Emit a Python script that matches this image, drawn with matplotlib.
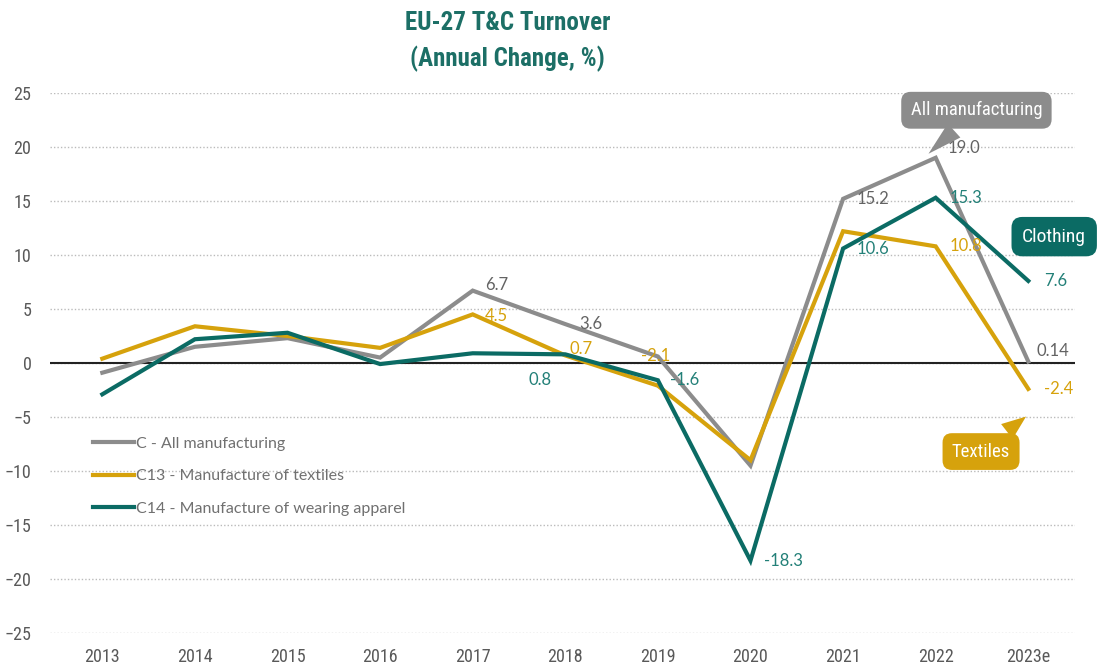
import matplotlib
matplotlib.use("Agg")
import matplotlib.pyplot as plt
from matplotlib import font_manager

# ---- data ----
years = ["2013", "2014", "2015", "2016", "2017", "2018", "2019", "2020", "2021", "2022", "2023e"]
all_manuf = [-0.9, 1.5, 2.3, 0.5, 6.7, 3.6, 0.6, -9.5, 15.2, 19.0, 0.14]
textiles = [0.4, 3.4, 2.5, 1.4, 4.5, 0.7, -2.1, -9.0, 12.2, 10.8, -2.4]
apparel = [-2.9, 2.2, 2.8, -0.1, 0.9, 0.8, -1.6, -18.3, 10.6, 15.3, 7.6]

series_names = ["C - All manufacturing",
                "C13 - Manufacture of textiles",
                "C14 - Manufacture of wearing apparel"]

GRAY = "#8c8c8c"
GOLD = "#d6a20c"
TEAL = "#0b6b64"
TITLE_C = "#1c6f66"
LBL_COLORS = ["#636363", "#d6a20c", "#238078"]

# value labels: (series index, year index, text, offset px, ha)
labels = [
    (0, 4, "6.7", (12, 6), "left"),
    (1, 4, "4.5", (12, -2), "left"),
    (0, 5, "3.6", (14, 0), "left"),
    (1, 5, "0.7", (4, 6), "left"),
    (2, 5, "0.8", (-25, -26), "center"),
    (1, 6, "-2.1", (-2, 30), "center"),
    (2, 6, "-1.6", (12, 0), "left"),
    (2, 7, "-18.3", (14, 0), "left"),
    (0, 8, "15.2", (14, 0), "left"),
    (2, 8, "10.6", (14, 0), "left"),
    (0, 9, "19.0", (12, 10), "left"),
    (2, 9, "15.3", (14, 0), "left"),
    (1, 9, "10.8", (14, 0), "left"),
    (0, 10, "0.14", (8, 10), "left"),
    (2, 10, "7.6", (16, 0), "left"),
    (1, 10, "-2.4", (16, 0), "left"),
]

plt.rcParams['font.family'] = ['Lato', 'DejaVu Sans']

# a narrow face for title, ticks and callouts, if one is installed
names = {f.name for f in font_manager.fontManager.ttflist}
narrow_name = None
for cand in ['Liberation Sans Narrow', 'Roboto Condensed', 'Open Sans Condensed',
             'DejaVu Sans Condensed']:
    if cand in names:
        narrow_name = cand
        break
if narrow_name:
    narrow = dict(family=[narrow_name, 'DejaVu Sans'])
else:
    narrow = dict(family=['DejaVu Sans'], stretch='condensed')

fig = plt.figure(figsize=(11.01, 6.68), dpi=100)
ax = fig.add_axes([0.045, 0.0524, 0.931, 0.8084])

x = list(range(len(years)))
data = [all_manuf, textiles, apparel]
colors = [GRAY, GOLD, TEAL]
for vals, c, name in zip(data, colors, series_names):
    ax.plot(x, vals, color=c, lw=3, label=name, solid_joinstyle='miter')

ax.axhline(0, color="#222222", lw=1.5, zorder=1)
ax.set_ylim(-25, 25)
ax.set_xlim(-0.57, 10.5)
ax.set_yticks(range(-25, 26, 5))
ax.set_xticks(x)
ax.set_xticklabels(years)
ax.grid(axis='y', color="#bbbbbb", ls=(0, (1, 1.5)), lw=1)
ax.set_axisbelow(True)
for s in ax.spines.values():
    s.set_visible(False)
ax.tick_params(length=0, colors="#555555")
for t in ax.get_xticklabels() + ax.get_yticklabels():
    t.set_fontproperties(font_manager.FontProperties(size=13, **narrow))
    t.set_color("#595959")
ax.tick_params(axis='x', pad=11)
ax.tick_params(axis='y', pad=13)

for si, yi, txt, off, ha in labels:
    ax.annotate(txt, (x[yi], data[si][yi]), xytext=off, textcoords='offset pixels',
                ha=ha, va='center', fontsize=12, color=LBL_COLORS[si])

leg = ax.legend(loc='upper left', bbox_to_anchor=(0.028, 0.39), frameon=False,
                handlelength=2.6, handletextpad=0.1, labelspacing=1.15, fontsize=11.5)
for t in leg.get_texts():
    t.set_color("#707070")

# callouts
box = dict(boxstyle='round,pad=0.5', ec='none')
ax.annotate("All manufacturing", xy=(8.9, 19.2), xytext=(9.44, 23.4),
            ha='center', va='center', fontsize=13.5, color='white',
            bbox=dict(box, fc=GRAY),
            arrowprops=dict(arrowstyle='wedge,tail_width=1.0', fc=GRAY, ec='none'),
            **narrow)
ax.annotate("Clothing", xy=(10.28, 11.7), ha='center', va='center', fontsize=14,
            color='white', annotation_clip=False,
            bbox=dict(boxstyle='round,pad=0.55', fc=TEAL, ec='none'), **narrow)
ax.annotate("Textiles", xy=(10.0, -4.8), xytext=(9.49, -8.2),
            ha='center', va='center', fontsize=13.5, color='white',
            bbox=dict(box, fc=GOLD),
            arrowprops=dict(arrowstyle='wedge,tail_width=1.0', fc=GOLD, ec='none'),
            **narrow)

fig.text(0.461, 0.965, "EU-27 T&C Turnover", ha='center', va='center',
         fontsize=18, fontweight='bold', color=TITLE_C, **narrow)
fig.text(0.461, 0.912, "(Annual Change, %)", ha='center', va='center',
         fontsize=18, fontweight='bold', color=TITLE_C, **narrow)

fig.savefig("out.png", dpi=100)
